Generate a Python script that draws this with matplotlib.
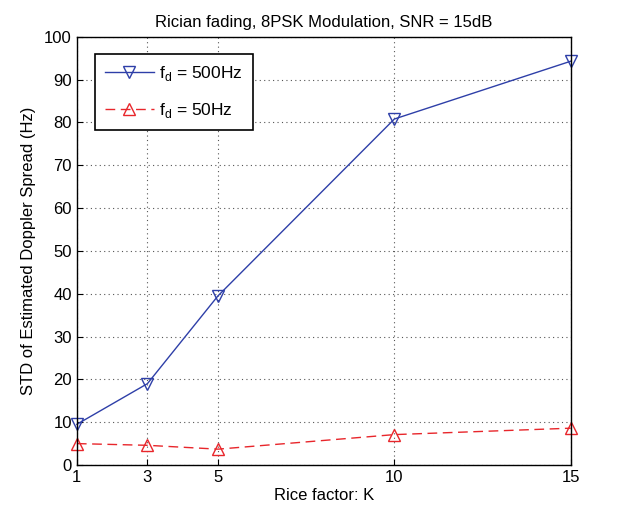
import matplotlib
matplotlib.use("Agg")
import matplotlib.pyplot as plt

rice_k = [1, 3, 5, 10, 15]
std_500 = [9.5, 19.0, 39.5, 80.8, 94.3]
std_50 = [5.0, 4.6, 3.7, 7.1, 8.6]
x_ticks = [1, 3, 5, 10, 15]
y_ticks = list(range(0, 101, 10))

plt.rcParams["font.family"] = "Liberation Sans"
plt.rcParams["font.size"] = 12

fig = plt.figure(figsize=(6.3, 5.11), dpi=100)
ax = fig.add_axes([0.122, 0.09, 0.784, 0.838])

ax.plot(rice_k, std_500, color="#2e3fa8", lw=1.0, marker="v", ms=8,
        mfc="none", mec="#2e3fa8", mew=1.0, label=r"f$_\mathregular{d}$ = 500Hz")
ax.plot(rice_k, std_50, color="#e8262b", lw=1.0, ls=(0, (7, 4)), marker="^", ms=8,
        mfc="none", mec="#e8262b", mew=1.0, label=r"f$_\mathregular{d}$ = 50Hz")

ax.set_xlim(1, 15)
ax.set_ylim(0, 100)
ax.set_xticks(x_ticks)
ax.set_yticks(y_ticks)
ax.tick_params(direction="in", length=4, width=0.8, labelsize=12)
ax.grid(True, color="#555555", ls=(0, (1, 3)), lw=0.8)
for s in ax.spines.values():
    s.set_linewidth(1.0)

ax.set_title("Rician fading, 8PSK Modulation, SNR = 15dB", fontsize=12, pad=7)
ax.set_xlabel("Rice factor: K", fontsize=12, labelpad=2)
ax.set_ylabel("STD of Estimated Doppler Spread (Hz)", fontsize=12, labelpad=6)

leg = ax.legend(loc="upper left", bbox_to_anchor=(0.036, 0.96), fancybox=False,
                edgecolor="black", framealpha=1, fontsize=12.5, handlelength=2.8,
                handletextpad=0.3, borderpad=0.6, labelspacing=1.0,
                borderaxespad=0)
leg.get_frame().set_linewidth(1.2)
for line in ax.lines:
    line.set_clip_on(False)

fig.savefig("out.png", dpi=100)
